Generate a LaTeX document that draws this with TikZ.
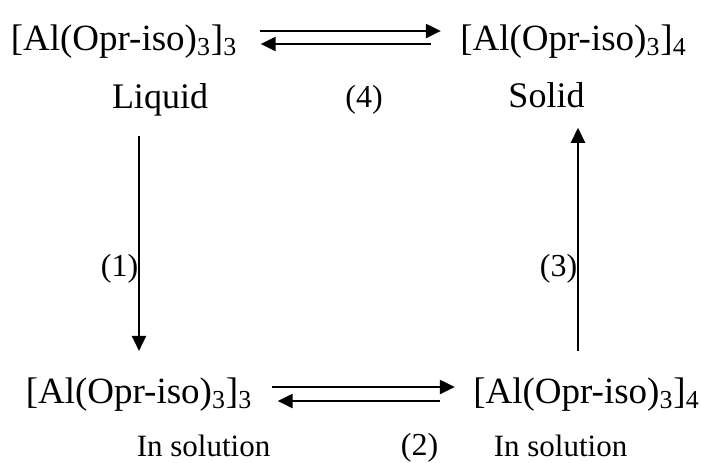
\documentclass[tikz,border=0pt]{standalone}
\usepackage{fontspec}
\setmainfont{Liberation Serif}
\usetikzlibrary{arrows.meta}
\newcommand\alkox[1]{[Al(Opr-iso)\textsubscript{3}]\textsubscript{#1}}

\begin{document}
\begin{tikzpicture}[x=0.5pt, y=-0.5pt,
  species/.style={inner sep=0pt, anchor=base, font=\fontsize{18.5}{22}\selectfont},
  phase/.style={inner sep=0pt, anchor=base, font=\fontsize{18}{22}\selectfont},
  numlabel/.style={inner sep=0pt, font=\fontsize{16}{19}\selectfont},
  soln/.style={inner sep=0pt, anchor=base, font=\fontsize{15.5}{18}\selectfont},
  rxn/.style={line width=1.1pt, -{Triangle[length=7.5pt, width=7pt]}}]
  \useasboundingbox (0,0) rectangle (702,462);

  % the four species
  \node[species] (tl) at (124,50) {\alkox{3}};
  \node[species] (tr) at (573.5,50) {\alkox{4}};
  \node[species] (bl) at (139,403) {\alkox{3}};
  \node[species] (br) at (586.5,403) {\alkox{4}};

  \node[phase] (liq) at (160,108) {Liquid};
  \node[phase] (sol) at (546.5,107) {Solid};
  \node[soln] (sl) at (203.5,456) {In solution};
  \node[soln] (sr) at (560.5,456) {In solution};

  \node[numlabel, anchor=base] (s4) at (364,107) {(4)};
  \node[numlabel] (s1) at (119.5,268.5) {(1)};
  \node[numlabel] (s3) at (558.5,268.5) {(3)};
  \node[numlabel, anchor=base] (s2) at (419.5,455) {(2)};

  % equilibria
  \draw[rxn] ([xshift=11pt, yshift=9.5pt]tl.base east) -- ([xshift=-9.5pt, yshift=9.5pt]tr.base west);
  \draw[rxn] ([xshift=-14.5pt, yshift=3pt]tr.base west) -- ([xshift=11.5pt, yshift=3pt]tl.base east);
  \draw[rxn] ([xshift=9.5pt, yshift=8pt]bl.base east) -- ([xshift=-9pt, yshift=8pt]br.base west);
  \draw[rxn] ([xshift=-16.5pt, yshift=1pt]br.base west) -- ([xshift=12.5pt, yshift=1pt]bl.base east);

  % dissolving and crystallising
  \draw[rxn] ([xshift=-10.5pt, yshift=-10pt]liq.south) -- ([yshift=13pt]bl.north);
  \draw[rxn] ([xshift=-4.25pt, yshift=13pt]br.north) -- ([xshift=15.75pt, yshift=-10pt]sol.south);
\end{tikzpicture}
\end{document}
